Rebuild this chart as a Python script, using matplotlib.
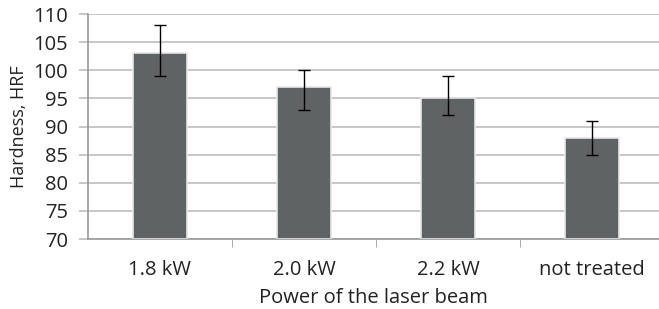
import numpy as np
import matplotlib.pyplot as plt

# Data
categories = ['1.8 kW', '2.0 kW', '2.2 kW', 'not treated']
hardness = np.array([103, 97, 95, 88])
err_upper = np.array([5, 3, 4, 3])
err_lower = np.array([4, 4, 3, 3])

plt.rcParams['font.family'] = ['Open Sans', 'DejaVu Sans']

fig = plt.figure(figsize=(6.59, 3.09), dpi=100)
ax = fig.add_axes([0.1335, 0.2265, 0.8665, 0.728])

x = np.arange(len(categories))
ax.bar(x, hardness - 70, bottom=70, width=0.38, color='#5f6363',
       edgecolor='#e6e6e6', linewidth=1.2, zorder=3)
ax.errorbar(x, hardness, yerr=[err_lower, err_upper], fmt='none',
            ecolor='black', elinewidth=1, capsize=4.5, capthick=1, zorder=4)

ax.set_ylim(70, 110)
ax.set_xlim(-0.5, 3.465)
ax.set_yticks(np.arange(70, 111, 5))
ax.yaxis.grid(True, color='#b8b8b8', linewidth=1.1, zorder=0)
ax.set_axisbelow(True)

ax.set_xticks(x)
ax.set_xticklabels(categories)
ax.set_xticks([0.5, 1.5, 2.5], minor=True)
ax.tick_params(axis='x', which='major', length=0, pad=15, labelsize=14.5, colors='#222222')
ax.tick_params(axis='x', which='minor', length=6, color='#9a9a9a', direction='out')
ax.tick_params(axis='y', length=6.5, color='#b8b8b8', width=1.1, labelcolor='#222222',
               labelsize=14.5, pad=8)

for s in ['top', 'right']:
    ax.spines[s].set_visible(False)
ax.spines['left'].set_color('#9a9a9a')
ax.spines['bottom'].set_color('#9a9a9a')
ax.spines['left'].set_linewidth(1.2)
ax.spines['bottom'].set_linewidth(1.2)

ax.set_xlabel('Power of the laser beam', fontsize=14.5, labelpad=6, color='#222222')
ax.set_ylabel('Hardness, HRF', fontsize=13, labelpad=4, color='#222222')

fig.savefig('out.png', dpi=100)
